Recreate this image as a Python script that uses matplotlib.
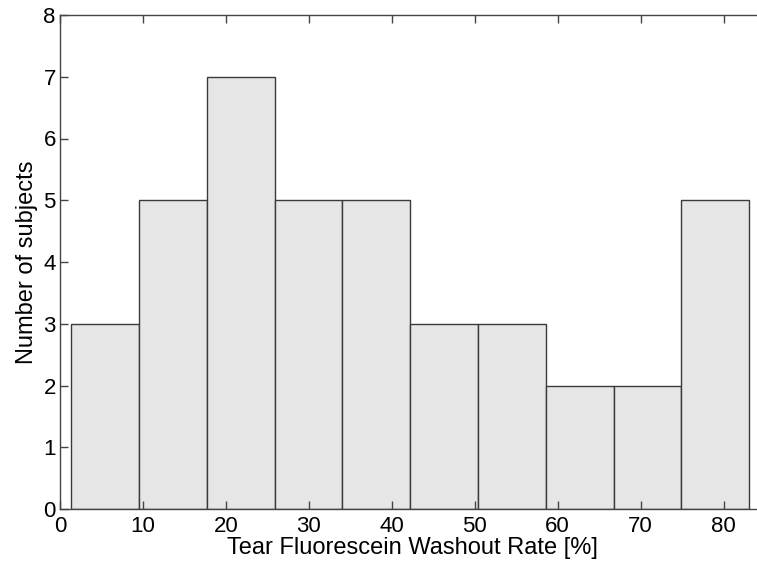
import numpy as np
import matplotlib.pyplot as plt

# histogram
bin_edges = [1.3, 9.5, 17.7, 25.9, 34.0, 42.2, 50.4, 58.6, 66.8, 74.9, 83.1]
counts = [3, 5, 7, 5, 5, 3, 3, 2, 2, 5]
x_ticks = [0, 10, 20, 30, 40, 50, 60, 70, 80]
y_ticks = [0, 1, 2, 3, 4, 5, 6, 7, 8]

plt.rcParams['font.family'] = ['Liberation Sans', 'DejaVu Sans']

fig = plt.figure(figsize=(7.57, 5.64), dpi=100)
ax = fig.add_axes([60 / 757, 55 / 564, 705 / 757, 494 / 564])

edges = np.array(bin_edges)
ax.bar(edges[:-1], counts, width=np.diff(edges), align='edge',
       color='#e6e6e6', edgecolor='#3a3a3a', linewidth=1.0)

ax.set_xlim(0, 85)
ax.set_ylim(0, 8)
ax.set_xticks(x_ticks)
ax.set_yticks(y_ticks)
ax.tick_params(direction='in', length=5.5, width=1.0, color='#444444',
               top=True, right=True, labelsize=16)
ax.tick_params(axis='x', pad=5)
ax.tick_params(axis='y', pad=3)
for s in ax.spines.values():
    s.set_color('#444444')
    s.set_linewidth(1.0)

ax.set_xlabel('Tear Fluorescein Washout Rate [%]', fontsize=17, labelpad=0)
ax.set_ylabel('Number of subjects', fontsize=17, labelpad=4)

fig.savefig('out.png', dpi=100)
